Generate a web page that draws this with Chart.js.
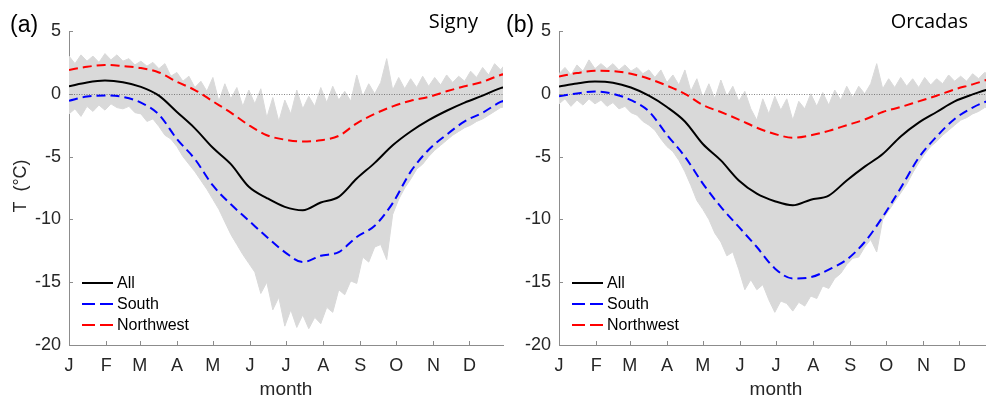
<!DOCTYPE html>
<html>
<head>
<meta charset="utf-8">
<script src="https://cdn.jsdelivr.net/npm/chart.js@4.4.1/dist/chart.umd.min.js"></script>
<style>
  html, body { margin: 0; padding: 0; background: #fff; }
  #wrap { position: relative; width: 986px; height: 403px; overflow: hidden; background: #fff; }
  canvas { position: absolute; top: 0; }
  .lbl { position: absolute; font-family: "Liberation Sans", Arial, sans-serif; color: #000; white-space: nowrap; line-height: 1; }
  .site { font-family: "Open Sans", sans-serif; font-size: 20px; }
</style>
</head>
<body>
<div id="wrap">
  <canvas id="chartSigny" width="505" height="403" style="left:0"></canvas>
  <canvas id="chartOrcadas" width="510" height="403" style="left:490px"></canvas>
  <div class="lbl" style="left:10px;top:13px;font-size:23px">(a)</div>
  <div class="lbl site" style="right:508px;top:11px">Signy</div>
  <div class="lbl" style="left:506px;top:13px;font-size:23px">(b)</div>
  <div class="lbl site" style="right:18px;top:11px">Orcadas</div>
  <div class="lbl" style="left:20px;top:186px;font-size:18px;color:#262626;transform:translate(-50%,-50%) rotate(-90deg)">T&nbsp;&nbsp;(°C)</div>
</div>

<script>
// axes
const monthTicks = [0, 31, 59, 90, 120, 151, 181, 212, 243, 273, 304, 334];
const monthLabels = ['J', 'F', 'M', 'A', 'M', 'J', 'J', 'A', 'S', 'O', 'N', 'D'];
const yTicks = [5, 0, -5, -10, -15, -20];

// day of year for the smooth curves and for the daily min/max envelope
const lineDays = [0, 15, 30, 45, 60, 75, 90, 105, 120, 135, 150, 165, 180,
  195, 210, 225, 240, 255, 270, 285, 300, 315, 330, 345, 360, 365];
const bandDays = [0, 5, 10, 15, 20, 25, 30, 35, 40, 45, 50, 55, 60, 65, 70, 75, 80, 85, 90, 95,
  100, 105, 110, 115, 120, 125, 130, 135, 140, 145, 150, 155, 160, 165, 170, 175, 180, 185, 190, 195,
  200, 205, 210, 215, 220, 225, 230, 235, 240, 245, 250, 255, 260, 265, 270, 275, 280, 285, 290, 295,
  300, 305, 310, 315, 320, 325, 330, 335, 340, 345, 350, 355, 360, 365];

// Signy
const signyAll = [0.6, 0.9, 1.05, 0.92, 0.55, -0.15, -1.45, -2.75, -4.3, -5.6, -7.4, -8.3, -9.0,
  -9.27, -8.65, -8.2, -6.75, -5.5, -4.1, -3.0, -2.1, -1.35, -0.7, -0.15, 0.45, 0.55];
const signySouth = [-0.55, -0.22, -0.13, -0.25, -0.7, -1.65, -3.6, -5.2, -7.3, -8.8, -10.1, -11.4, -12.6,
  -13.4, -12.9, -12.6, -11.4, -10.5, -8.7, -6.2, -4.45, -3.25, -2.2, -1.5, -0.65, -0.5];
const signyNorthwest = [1.9, 2.15, 2.3, 2.2, 2.05, 1.7, 0.95, 0.3, -0.6, -1.5, -2.5, -3.3, -3.65,
  -3.8, -3.7, -3.35, -2.35, -1.6, -1.0, -0.55, -0.25, 0.2, 0.6, 0.95, 1.5, 1.6];
const signyMax = [3.0, 2.4, 3.1, 2.6, 3.0, 2.5, 3.2, 2.7, 3.1, 2.6,
  2.8, 2.3, 2.6, 2.2, 2.5, 2.0, 2.4, 1.4, 1.7, 1.0,
  1.4, 0.5, 1.0, 0.2, 1.3, -0.6, 0.8, -0.4, 0.5, -1.0,
  0.3, -0.8, 0.4, -1.9, -0.3, -2.2, -0.5, -1.6, 0.3, -1.2,
  -0.2, -1.0, 0.5, -0.7, 0.6, -0.5, 0.2, -0.6, 1.5, -0.2,
  0.8, 0.0, 0.9, 2.8, 0.3, 1.3, 0.4, 1.2, 0.5, 1.4,
  0.6, 1.3, 0.7, 1.5, 0.9, 1.4, 1.0, 1.8, 1.3, 2.1,
  1.5, 2.4, 1.9, 2.5];
const signyMin = [-1.6, -1.2, -1.8, -1.0, -1.4, -0.9, -1.3, -0.8, -1.1, -1.2,
  -1.0, -1.5, -1.6, -2.2, -2.0, -2.6, -3.3, -3.6, -4.2, -5.0,
  -5.6, -6.2, -6.9, -7.6, -8.4, -9.2, -10.2, -11.2, -12.0, -12.8,
  -13.5, -14.2, -15.9, -15.0, -17.2, -16.2, -18.5, -17.2, -18.6, -17.6,
  -18.7, -17.8, -18.3, -17.0, -17.4, -15.6, -16.0, -14.9, -15.1, -13.0,
  -13.4, -12.2, -12.0, -13.2, -9.6, -8.4, -7.5, -6.8, -6.0, -5.6,
  -5.0, -4.5, -4.1, -3.7, -3.3, -3.0, -2.7, -2.5, -2.2, -2.0,
  -1.7, -1.4, -1.1, -1.0];

// Orcadas
const orcadasAll = [0.58, 0.82, 0.97, 0.88, 0.5, -0.15, -1.05, -2.2, -4.0, -5.3, -6.9, -7.95, -8.55,
  -8.88, -8.43, -8.1, -6.9, -5.8, -4.8, -3.4, -2.3, -1.45, -0.6, -0.05, 0.4, 0.5];
const orcadasSouth = [-0.2, 0.03, 0.18, 0.0, -0.5, -1.4, -3.26, -5.0, -7.15, -9.0, -10.6, -12.2, -13.9,
  -14.7, -14.6, -14.0, -13.2, -11.8, -9.8, -7.5, -5.1, -3.4, -2.0, -1.1, -0.5, -0.4];
const orcadasNorthwest = [1.38, 1.65, 1.83, 1.8, 1.6, 1.2, 0.65, 0.0, -0.9, -1.45, -2.05, -2.7, -3.2,
  -3.5, -3.3, -2.95, -2.5, -2.05, -1.45, -1.05, -0.6, -0.15, 0.35, 0.75, 1.2, 1.3];
const orcadasMax = [1.6, 2.1, 1.5, 2.3, 1.8, 2.7, 2.0, 2.4, 2.0, 2.4,
  1.9, 2.3, 1.8, 2.1, 1.6, 1.9, 1.3, 1.9, 0.9, 1.5,
  0.7, 1.9, 0.2, 1.2, -0.3, 0.8, -0.4, 1.1, -0.2, 0.6,
  -0.6, 0.2, -1.2, -2.1, -0.4, -1.6, -0.2, -1.3, -0.4, -2.1,
  -0.6, -1.2, 0.0, -1.0, 0.1, -0.9, 0.3, -0.5, 0.6, -0.3,
  0.6, 0.0, 0.8, 2.4, 0.4, 1.2, 0.5, 1.3, 0.6, 1.2,
  0.5, 1.3, 0.7, 1.2, 0.8, 1.5, 1.0, 1.4, 1.0, 1.6,
  1.2, 1.7, 1.5, 1.6];
const orcadasMin = [-0.8, -0.4, -1.0, -0.5, -0.9, -0.4, -0.8, -0.5, -1.0, -0.7,
  -1.2, -1.0, -1.5, -1.7, -2.2, -2.5, -2.9, -3.6, -4.2, -4.6,
  -5.3, -6.2, -7.3, -8.5, -9.2, -10.0, -11.1, -11.8, -12.9, -12.6,
  -14.0, -15.6, -14.8, -15.6, -15.2, -16.4, -17.4, -16.5, -16.7, -17.3,
  -16.6, -16.9, -16.1, -16.3, -15.3, -15.5, -14.7, -14.3, -13.6, -13.1,
  -13.0, -12.2, -11.6, -12.6, -10.0, -9.3, -8.6, -7.9, -7.2, -6.3,
  -5.5, -4.8, -4.2, -3.8, -3.3, -2.9, -2.5, -2.1, -1.9, -1.6,
  -1.4, -1.1, -1.0, -0.9];

const AXIS_GREY = '#8c8c8c';
const TEXT_GREY = '#262626';
Chart.defaults.font.family = '"Liberation Sans", Arial, sans-serif';

function pts(days, vals) {
  return days.map((d, i) => ({ x: d, y: vals[i] }));
}

// zero line, inward ticks and the in-plot legend (matlab look)
const decor = {
  id: 'decor',
  beforeDatasetDraw(chart, args) {
    if (args.index !== 2) return;
    const { ctx, chartArea, scales } = chart;
    const y0 = Math.round(scales.y.getPixelForValue(0)) + 0.5;
    ctx.save();
    ctx.strokeStyle = '#555';
    ctx.lineWidth = 0.7;
    ctx.setLineDash([1, 1.5]);
    ctx.beginPath();
    ctx.moveTo(chartArea.left, y0);
    ctx.lineTo(chartArea.right, y0);
    ctx.stroke();
    ctx.restore();
  },
  afterDraw(chart) {
    const { ctx, chartArea, scales } = chart;
    ctx.save();
    ctx.strokeStyle = AXIS_GREY;
    ctx.lineWidth = 1;
    ctx.beginPath();
    monthTicks.forEach(v => {
      const px = Math.round(scales.x.getPixelForValue(v)) + 0.5;
      ctx.moveTo(px, chartArea.bottom);
      ctx.lineTo(px, chartArea.bottom - 4);
    });
    yTicks.forEach(v => {
      const py = Math.round(scales.y.getPixelForValue(v)) + 0.5;
      ctx.moveTo(chartArea.left, py);
      ctx.lineTo(chartArea.left + 4, py);
    });
    ctx.stroke();

    // legend
    const rows = [62, 41, 20];
    ctx.font = '16px "Liberation Sans", Arial, sans-serif';
    ctx.textBaseline = 'middle';
    chart.data.datasets.slice(0, 3).forEach((ds, i) => {
      const y = chartArea.bottom - rows[i];
      ctx.strokeStyle = ds.borderColor;
      ctx.lineWidth = 2;
      ctx.setLineDash(ds.borderDash.length ? [13, 5] : []);
      ctx.beginPath();
      ctx.moveTo(chartArea.left + 13, y);
      ctx.lineTo(chartArea.left + 44, y);
      ctx.stroke();
      ctx.fillStyle = '#000';
      ctx.fillText(ds.label, chartArea.left + 48, y + 1);
    });
    ctx.restore();
  }
};

function buildPanel(id, all, south, northwest, hi, lo, canvasWidth) {
  const lineStyle = { pointRadius: 0, borderWidth: 2, fill: false, cubicInterpolationMode: 'monotone' };
  new Chart(document.getElementById(id), {
    type: 'line',
    data: {
      datasets: [
        Object.assign({ label: 'All', data: pts(lineDays, all), borderColor: '#000000', borderDash: [], order: 1 }, lineStyle),
        Object.assign({ label: 'South', data: pts(lineDays, south), borderColor: '#0000ff', borderDash: [9, 5], order: 2 }, lineStyle),
        Object.assign({ label: 'Northwest', data: pts(lineDays, northwest), borderColor: '#ff0000', borderDash: [9, 5], order: 3 }, lineStyle),
        { label: 'max', data: pts(bandDays, hi), borderColor: '#d9d9d9', backgroundColor: '#d9d9d9',
          borderWidth: 1, pointRadius: 0, tension: 0, fill: '+1', order: 10 },
        { label: 'min', data: pts(bandDays, lo), borderColor: '#d9d9d9', borderWidth: 1,
          pointRadius: 0, tension: 0, fill: false, order: 10 }
      ]
    },
    options: {
      responsive: false,
      animation: false,
      devicePixelRatio: 1,
      layout: { padding: { top: 31, right: canvasWidth - 503, bottom: 0, left: 0 } },
      plugins: { legend: { display: false }, tooltip: { enabled: false } },
      scales: {
        x: {
          type: 'linear', min: 0, max: 362,
          afterBuildTicks: axis => { axis.ticks = monthTicks.map(v => ({ value: v })); },
          afterFit: s => { s.height = 58; },
          ticks: {
            autoSkip: false, maxRotation: 0, padding: 10, color: TEXT_GREY, font: { size: 18 },
            callback: v => monthLabels[monthTicks.indexOf(v)]
          },
          grid: { display: false, drawTicks: false },
          border: { display: true, color: AXIS_GREY },
          title: { display: true, text: 'month', color: TEXT_GREY, font: { size: 19 }, padding: { top: 0, bottom: 2 } }
        },
        y: {
          min: -20, max: 5,
          afterFit: s => { s.width = 69; },
          ticks: { stepSize: 5, padding: 8, color: TEXT_GREY, font: { size: 18 } },
          grid: { display: false, drawTicks: false },
          border: { display: true, color: AXIS_GREY }
        }
      }
    },
    plugins: [decor]
  });
}

buildPanel('chartSigny', signyAll, signySouth, signyNorthwest, signyMax, signyMin, 505);
buildPanel('chartOrcadas', orcadasAll, orcadasSouth, orcadasNorthwest, orcadasMax, orcadasMin, 510);
</script>
</body>
</html>
